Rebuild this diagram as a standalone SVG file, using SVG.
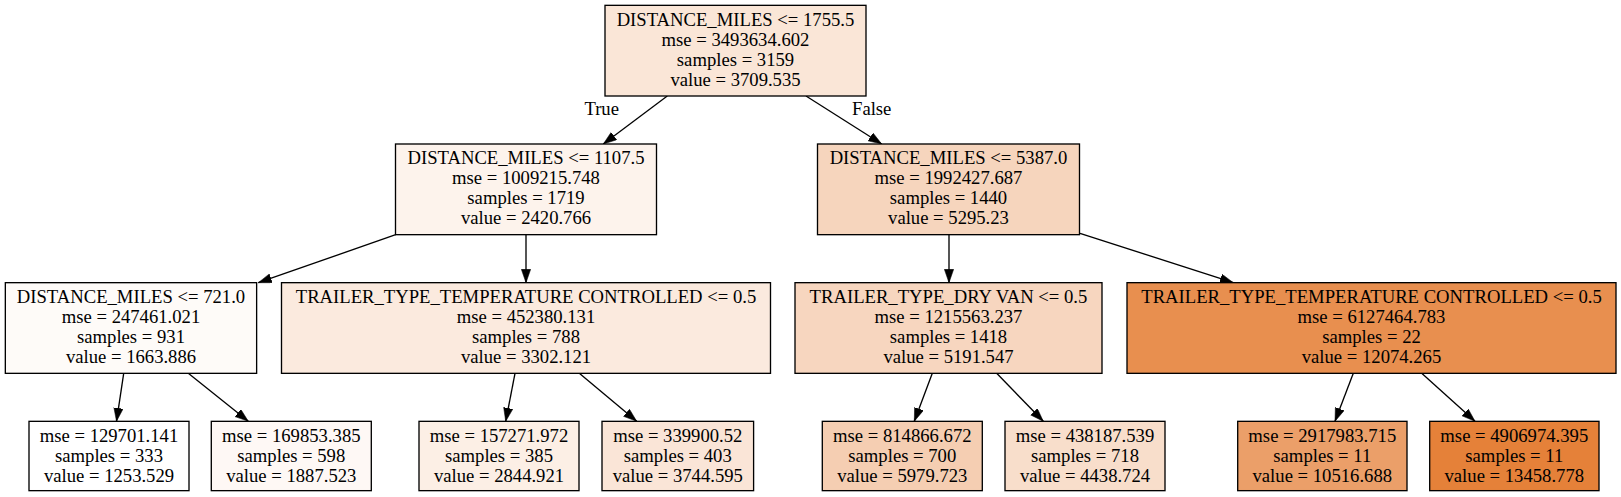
<svg xmlns="http://www.w3.org/2000/svg" width="1621" height="497" viewBox="0 0 1621 497">
<style>
  .n rect { stroke: #000; stroke-width: 1.33; }
  text { font-family: "Liberation Serif", "Times New Roman", serif; font-size: 18.67px; fill: #000; text-anchor: middle; }
  .e line { stroke: #000; stroke-width: 1.33; marker-end: url(#arr); }
</style>
<defs>
  <marker id="arr" markerUnits="userSpaceOnUse" markerWidth="14" markerHeight="10" refX="13.33" refY="4.67" orient="auto">
    <path d="M0,0 L13.33,4.67 L0,9.33 z" fill="#000" stroke="#000" stroke-width="0.5"/>
  </marker>
</defs>
<rect width="1621" height="497" fill="#fff"/>
<g id="edges" class="e">
  <line x1="667.3" y1="96" x2="603.3" y2="144"/>
  <line x1="806" y1="96" x2="881.7" y2="144"/>
  <line x1="395.7" y1="234.7" x2="258.3" y2="282.7"/>
  <line x1="526" y1="234.7" x2="526" y2="282.7"/>
  <line x1="949" y1="234.7" x2="949" y2="282.7"/>
  <line x1="1080" y1="233.3" x2="1233.3" y2="282.7"/>
  <line x1="123.7" y1="373.3" x2="116.5" y2="421.3"/>
  <line x1="188.3" y1="373.3" x2="248.3" y2="421.3"/>
  <line x1="515" y1="373.3" x2="505.7" y2="421.3"/>
  <line x1="579.3" y1="373.3" x2="636.7" y2="421.3"/>
  <line x1="932.3" y1="373.3" x2="914.3" y2="421.3"/>
  <line x1="996.7" y1="373.3" x2="1043.3" y2="421.3"/>
  <line x1="1353.3" y1="373.3" x2="1335" y2="421.3"/>
  <line x1="1421.7" y1="373.3" x2="1475" y2="421.3"/>
  <text x="601.7" y="115">True</text>
  <text x="871.7" y="115">False</text>
</g>
<g id="node0" class="n">
  <rect x="605" y="5.33" width="261" height="90.67" fill="#fae6d7"/>
  <text x="735.5" y="25.6">DISTANCE_MILES &lt;= 1755.5</text>
  <text x="735.5" y="45.6">mse = 3493634.602</text>
  <text x="735.5" y="65.6">samples = 3159</text>
  <text x="735.5" y="85.6">value = 3709.535</text>
</g>
<g id="node1" class="n">
  <rect x="395.5" y="144" width="261" height="90.67" fill="#fdf3ec"/>
  <text x="526" y="164.27">DISTANCE_MILES &lt;= 1107.5</text>
  <text x="526" y="184.27">mse = 1009215.748</text>
  <text x="526" y="204.27">samples = 1719</text>
  <text x="526" y="224.27">value = 2420.766</text>
</g>
<g id="node8" class="n">
  <rect x="817.5" y="144" width="262" height="90.67" fill="#f6d5bd"/>
  <text x="948.5" y="164.27">DISTANCE_MILES &lt;= 5387.0</text>
  <text x="948.5" y="184.27">mse = 1992427.687</text>
  <text x="948.5" y="204.27">samples = 1440</text>
  <text x="948.5" y="224.27">value = 5295.23</text>
</g>
<g id="node2" class="n">
  <rect x="5.33" y="282.67" width="251.3" height="90.67" fill="#fefbf8"/>
  <text x="131" y="302.93">DISTANCE_MILES &lt;= 721.0</text>
  <text x="131" y="322.93">mse = 247461.021</text>
  <text x="131" y="342.93">samples = 931</text>
  <text x="131" y="362.93">value = 1663.886</text>
</g>
<g id="node5" class="n">
  <rect x="281.5" y="282.67" width="489" height="90.67" fill="#fbeade"/>
  <text x="526" y="302.93">TRAILER_TYPE_TEMPERATURE CONTROLLED &lt;= 0.5</text>
  <text x="526" y="322.93">mse = 452380.131</text>
  <text x="526" y="342.93">samples = 788</text>
  <text x="526" y="362.93">value = 3302.121</text>
</g>
<g id="node9" class="n">
  <rect x="795" y="282.67" width="307" height="90.67" fill="#f7d6bf"/>
  <text x="948.5" y="302.93">TRAILER_TYPE_DRY VAN &lt;= 0.5</text>
  <text x="948.5" y="322.93">mse = 1215563.237</text>
  <text x="948.5" y="342.93">samples = 1418</text>
  <text x="948.5" y="362.93">value = 5191.547</text>
</g>
<g id="node12" class="n">
  <rect x="1127" y="282.67" width="489" height="90.67" fill="#e88f4f"/>
  <text x="1371.5" y="302.93">TRAILER_TYPE_TEMPERATURE CONTROLLED &lt;= 0.5</text>
  <text x="1371.5" y="322.93">mse = 6127464.783</text>
  <text x="1371.5" y="342.93">samples = 22</text>
  <text x="1371.5" y="362.93">value = 12074.265</text>
</g>
<g id="node3" class="n">
  <rect x="29" y="421.33" width="160" height="69.33" fill="#ffffff"/>
  <text x="109" y="441.6">mse = 129701.141</text>
  <text x="109" y="461.6">samples = 333</text>
  <text x="109" y="481.6">value = 1253.529</text>
</g>
<g id="node4" class="n">
  <rect x="211.3" y="421.33" width="160" height="69.33" fill="#fef8f5"/>
  <text x="291.3" y="441.6">mse = 169853.385</text>
  <text x="291.3" y="461.6">samples = 598</text>
  <text x="291.3" y="481.6">value = 1887.523</text>
</g>
<g id="node6" class="n">
  <rect x="419" y="421.33" width="160" height="69.33" fill="#fcefe5"/>
  <text x="499" y="441.6">mse = 157271.972</text>
  <text x="499" y="461.6">samples = 385</text>
  <text x="499" y="481.6">value = 2844.921</text>
</g>
<g id="node7" class="n">
  <rect x="602" y="421.33" width="151.6" height="69.33" fill="#fae5d7"/>
  <text x="677.8" y="441.6">mse = 339900.52</text>
  <text x="677.8" y="461.6">samples = 403</text>
  <text x="677.8" y="481.6">value = 3744.595</text>
</g>
<g id="node10" class="n">
  <rect x="822.3" y="421.33" width="160" height="69.33" fill="#f5ceb2"/>
  <text x="902.3" y="441.6">mse = 814866.672</text>
  <text x="902.3" y="461.6">samples = 700</text>
  <text x="902.3" y="481.6">value = 5979.723</text>
</g>
<g id="node11" class="n">
  <rect x="1005" y="421.33" width="160" height="69.33" fill="#f8decb"/>
  <text x="1085" y="441.6">mse = 438187.539</text>
  <text x="1085" y="461.6">samples = 718</text>
  <text x="1085" y="481.6">value = 4438.724</text>
</g>
<g id="node13" class="n">
  <rect x="1237.7" y="421.33" width="169.3" height="69.33" fill="#eb9f69"/>
  <text x="1322.3" y="441.6">mse = 2917983.715</text>
  <text x="1322.3" y="461.6">samples = 11</text>
  <text x="1322.3" y="481.6">value = 10516.688</text>
</g>
<g id="node14" class="n">
  <rect x="1429.7" y="421.33" width="169.3" height="69.33" fill="#e58139"/>
  <text x="1514.3" y="441.6">mse = 4906974.395</text>
  <text x="1514.3" y="461.6">samples = 11</text>
  <text x="1514.3" y="481.6">value = 13458.778</text>
</g>
</svg>
